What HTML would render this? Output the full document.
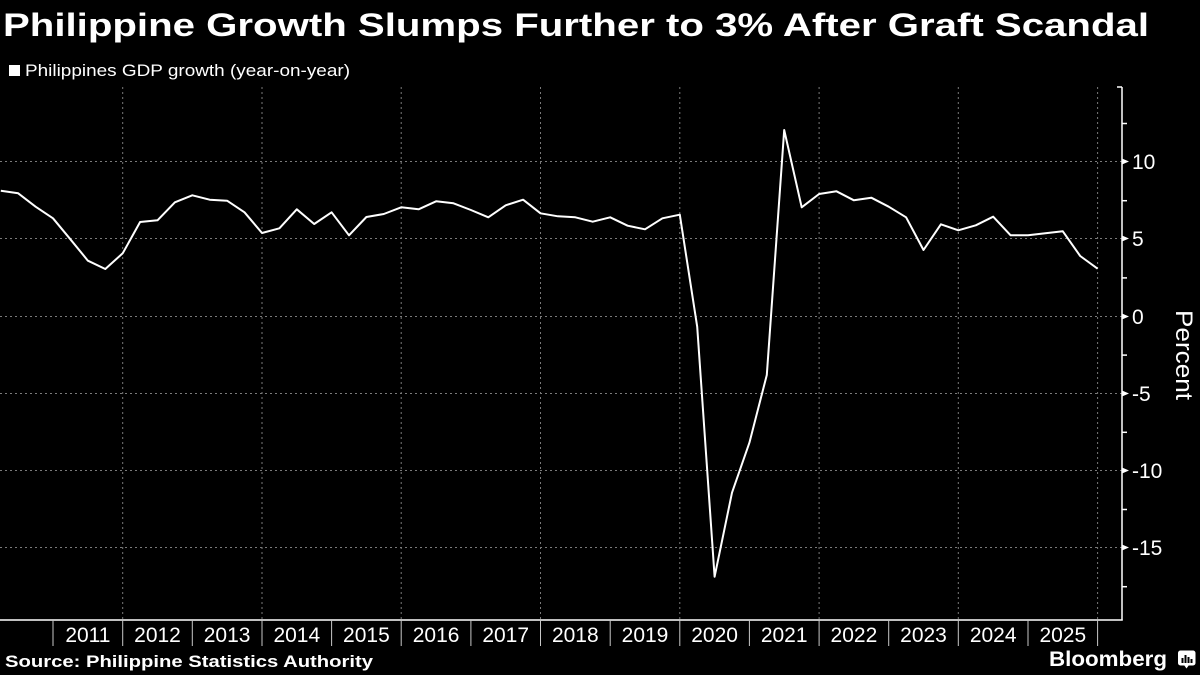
<!DOCTYPE html>
<html><head><meta charset="utf-8"><style>
html,body{margin:0;padding:0;background:#000;}
svg{display:block;}
text{font-family:"Liberation Sans",Arial,sans-serif;fill:#fff;}
</style></head><body>
<svg width="1200" height="675" viewBox="0 0 1200 675" xmlns="http://www.w3.org/2000/svg">
<rect width="1200" height="675" fill="#000"/>
<text x="3" y="36" font-size="32" font-weight="bold" textLength="1146" lengthAdjust="spacingAndGlyphs">Philippine Growth Slumps Further to 3% After Graft Scandal</text>
<rect x="9" y="65" width="11" height="11" fill="#fff"/>
<text x="25" y="76" font-size="17" textLength="325" lengthAdjust="spacingAndGlyphs">Philippines GDP growth (year-on-year)</text>

<g stroke="#7a7a7a" stroke-width="1" stroke-dasharray="2,3" fill="none">
<line x1="0" y1="161.5" x2="1122" y2="161.5"/>
<line x1="0" y1="238.5" x2="1122" y2="238.5"/>
<line x1="0" y1="316.5" x2="1122" y2="316.5"/>
<line x1="0" y1="393.5" x2="1122" y2="393.5"/>
<line x1="0" y1="470.5" x2="1122" y2="470.5"/>
<line x1="0" y1="547.5" x2="1122" y2="547.5"/>
<line x1="122.7" y1="87" x2="122.7" y2="620"/>
<line x1="262" y1="87" x2="262" y2="620"/>
<line x1="401.2" y1="87" x2="401.2" y2="620"/>
<line x1="540.5" y1="87" x2="540.5" y2="620"/>
<line x1="679.8" y1="87" x2="679.8" y2="620"/>
<line x1="819.1" y1="87" x2="819.1" y2="620"/>
<line x1="958.3" y1="87" x2="958.3" y2="620"/>
<line x1="1097.6" y1="87" x2="1097.6" y2="620"/>
</g>

<g stroke="#fff" stroke-width="1.5" fill="none">
<line x1="1122" y1="87" x2="1122" y2="620.5"/>
<line x1="1117" y1="87" x2="1122" y2="87"/>
<line x1="0" y1="620" x2="1122.7" y2="620"/>
<line x1="1122" y1="123.5" x2="1127" y2="123.5"/>
<line x1="1122" y1="200.7" x2="1127" y2="200.7"/>
<line x1="1122" y1="277.9" x2="1127" y2="277.9"/>
<line x1="1122" y1="355.1" x2="1127" y2="355.1"/>
<line x1="1122" y1="432.3" x2="1127" y2="432.3"/>
<line x1="1122" y1="509.5" x2="1127" y2="509.5"/>
<line x1="1122" y1="586.7" x2="1127" y2="586.7"/>
</g>
<g fill="#fff">
<polygon points="1122,158.5 1129,161.5 1122,164.5"/>
<polygon points="1122,235.5 1129,238.5 1122,241.5"/>
<polygon points="1122,313.5 1129,316.5 1122,319.5"/>
<polygon points="1122,390.5 1129,393.5 1122,396.5"/>
<polygon points="1122,467.5 1129,470.5 1122,473.5"/>
<polygon points="1122,544.5 1129,547.5 1122,550.5"/>
</g>
<g font-size="21">
<text x="1132" y="169">10</text>
<text x="1132" y="246">5</text>
<text x="1132" y="324">0</text>
<text x="1132" y="401">-5</text>
<text x="1132" y="478">-10</text>
<text x="1132" y="555">-15</text>
</g>
<text transform="translate(1176,355) rotate(90)" text-anchor="middle" font-size="24" textLength="90" lengthAdjust="spacingAndGlyphs">Percent</text>

<g stroke="#c8c8c8" stroke-width="1">
<line x1="53" y1="620" x2="53" y2="646"/>
<line x1="122.7" y1="620" x2="122.7" y2="646"/>
<line x1="192.3" y1="620" x2="192.3" y2="646"/>
<line x1="262" y1="620" x2="262" y2="646"/>
<line x1="331.6" y1="620" x2="331.6" y2="646"/>
<line x1="401.2" y1="620" x2="401.2" y2="646"/>
<line x1="470.9" y1="620" x2="470.9" y2="646"/>
<line x1="540.5" y1="620" x2="540.5" y2="646"/>
<line x1="610.2" y1="620" x2="610.2" y2="646"/>
<line x1="679.8" y1="620" x2="679.8" y2="646"/>
<line x1="749.4" y1="620" x2="749.4" y2="646"/>
<line x1="819.1" y1="620" x2="819.1" y2="646"/>
<line x1="888.7" y1="620" x2="888.7" y2="646"/>
<line x1="958.3" y1="620" x2="958.3" y2="646"/>
<line x1="1028" y1="620" x2="1028" y2="646"/>
<line x1="1097.6" y1="620" x2="1097.6" y2="646"/>
</g>
<g font-size="21" text-anchor="middle">
<text x="87.9" y="642">2011</text>
<text x="157.5" y="642">2012</text>
<text x="227.1" y="642">2013</text>
<text x="296.8" y="642">2014</text>
<text x="366.4" y="642">2015</text>
<text x="436.1" y="642">2016</text>
<text x="505.7" y="642">2017</text>
<text x="575.3" y="642">2018</text>
<text x="645" y="642">2019</text>
<text x="714.6" y="642">2020</text>
<text x="784.2" y="642">2021</text>
<text x="853.9" y="642">2022</text>
<text x="923.5" y="642">2023</text>
<text x="993.2" y="642">2024</text>
<text x="1062.8" y="642">2025</text>
</g>

<polyline fill="none" stroke="#fff" stroke-width="2" stroke-linejoin="round" points="
0.8,190.7 18.2,193.3 35.6,206.7 53.0,218.3 70.4,239.3 87.9,260.7 105.3,269 122.7,253.3
140.1,222 157.5,220.3 174.9,202.3 192.3,195.3 209.7,199.7 227.1,200.7 244.5,212.3 262.0,233
279.4,228.3 296.8,209.3 314.2,224 331.6,212.3 349.0,235.3 366.4,217 383.8,214 401.2,207.3
418.6,209.3 436.1,201.3 453.5,203.3 470.9,210 488.3,217.3 505.7,205.3 523.1,199.7 540.5,213.3
557.9,216.3 575.3,217.3 592.7,221.7 610.2,217.3 627.6,225.7 645.0,229.3 662.4,218.3 679.8,214.7
697.2,326.7 714.6,576.7 732.0,492.7 749.4,442.7 766.8,375 784.2,130 801.7,207.3 819.1,194
836.5,191.3 853.9,200.3 871.3,197.7 888.7,206.7 906.1,217.3 923.5,250 940.9,224.3 958.3,230.3
975.8,225.3 993.2,216.7 1010.6,235.3 1028.0,235.3 1045.4,233.3 1062.8,231.3 1080.2,256 1097.6,268.7"/>

<text x="5" y="667" font-size="17" font-weight="bold" textLength="368" lengthAdjust="spacingAndGlyphs">Source: Philippine Statistics Authority</text>
<text x="1049" y="666" font-size="21.5" font-weight="bold" textLength="118" lengthAdjust="spacingAndGlyphs">Bloomberg</text>
<g>
<rect x="1178" y="650.5" width="17.5" height="15" rx="2.5" fill="#fff"/>
<polygon points="1184,665 1189,665 1186.5,668.5" fill="#fff"/>
<rect x="1181.5" y="658" width="2" height="5" fill="#000"/>
<rect x="1184.5" y="655" width="2" height="8" fill="#000"/>
<rect x="1187.5" y="657" width="2" height="6" fill="#000"/>
<rect x="1190.5" y="659" width="2" height="4" fill="#000"/>
</g>
</svg>
</body></html>
